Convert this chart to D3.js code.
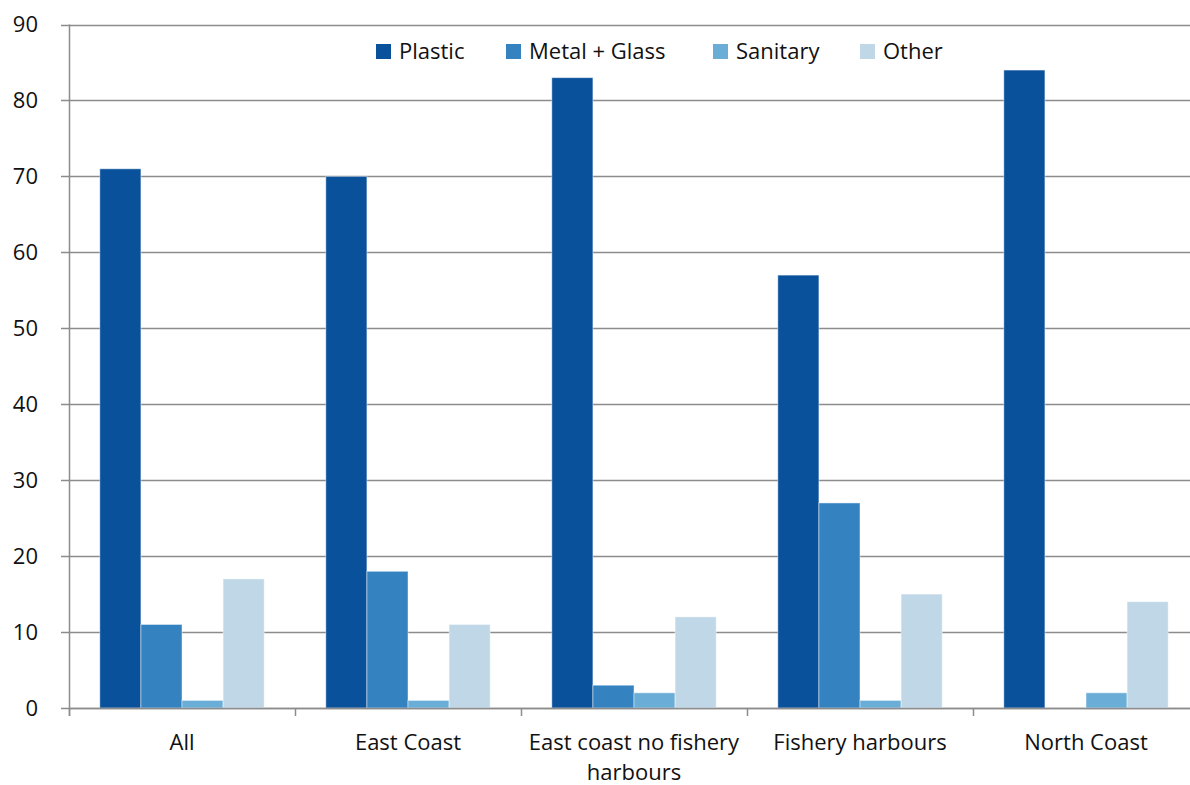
<!DOCTYPE html>
<html>
<head>
<meta charset="utf-8">
<script src="https://cdn.jsdelivr.net/npm/d3@7"></script>
<style>
  html, body { margin: 0; padding: 0; background: #fff; }
  svg text { font-family: "Open Sans", "Liberation Sans", sans-serif; fill: #111; }
</style>
</head>
<body>
<svg id="chart" width="1190" height="785"></svg>
<script>
// Litter composition (%) by coastal area
const categories = ["All", "East Coast", "East coast no fishery harbours", "Fishery harbours", "North Coast"];
const seriesNames = ["Plastic", "Metal + Glass", "Sanitary", "Other"];
const plastic     = [71, 70, 83, 57, 84];
const metalGlass  = [11, 18, 3, 27, 0];
const sanitary    = [1, 1, 2, 1, 2];
const other       = [17, 11, 12, 15, 14];
const yTicks      = [0, 10, 20, 30, 40, 50, 60, 70, 80, 90];
const colors      = ["#0a519c", "#3483c0", "#6aaed7", "#bfd7e7"];

const seriesValues = [plastic, metalGlass, sanitary, other];

const svg = d3.select("#chart");
const plotLeft = 69, plotRight = 1199, plotTop = 24.5, plotBottom = 708;

const x0 = d3.scaleBand().domain(categories).range([plotLeft, plotRight]).paddingInner(0).paddingOuter(0);
const x1 = d3.scaleBand().domain(seriesNames).range([0, x0.bandwidth()]).paddingOuter(0.75).paddingInner(0);
const y = d3.scaleLinear().domain([0, 90]).range([plotBottom, plotTop]);

// horizontal gridlines
svg.append("g").selectAll("line").data(yTicks).join("line")
  .attr("x1", plotLeft - 8).attr("x2", plotRight)
  .attr("y1", d => Math.round(y(d)) + 0.5).attr("y2", d => Math.round(y(d)) + 0.5)
  .attr("stroke", "#8c8c8c").attr("stroke-width", 1.5);

// y tick labels
svg.append("g").selectAll("text").data(yTicks).join("text")
  .attr("x", 38).attr("y", d => y(d)).attr("dy", "0.36em")
  .attr("text-anchor", "end").attr("font-size", 22)
  .text(d => d);

// bars
const groups = svg.append("g").selectAll("g").data(categories).join("g")
  .attr("transform", d => `translate(${x0(d)},0)`);
groups.selectAll("rect")
  .data((c, ci) => seriesNames.map((s, si) => ({ s, si, v: seriesValues[si][ci] })).filter(d => d.v > 0))
  .join("rect")
  .attr("x", d => x1(d.s)).attr("width", x1.bandwidth())
  .attr("y", d => y(d.v)).attr("height", d => plotBottom - y(d.v))
  .attr("fill", d => colors[d.si])
  .attr("stroke", "rgba(255,255,255,0.45)").attr("stroke-width", 1);

// y axis line
svg.append("line").attr("x1", plotLeft + 0.5).attr("x2", plotLeft + 0.5)
  .attr("y1", plotTop).attr("y2", plotBottom + 8)
  .attr("stroke", "#8c8c8c").attr("stroke-width", 1.5);

// x axis line and category boundary ticks
svg.append("line").attr("x1", plotLeft).attr("x2", plotRight)
  .attr("y1", plotBottom + 0.5).attr("y2", plotBottom + 0.5)
  .attr("stroke", "#8c8c8c").attr("stroke-width", 1.5);
const bounds = categories.map(c => x0(c)).concat([plotRight]);
svg.append("g").selectAll("line").data(bounds).join("line")
  .attr("x1", d => Math.round(d) + 0.5).attr("x2", d => Math.round(d) + 0.5)
  .attr("y1", plotBottom).attr("y2", plotBottom + 8)
  .attr("stroke", "#8c8c8c").attr("stroke-width", 1.5);

// category labels (wrapped to band width)
const catLabels = {
  "All": ["All"],
  "East Coast": ["East Coast"],
  "East coast no fishery harbours": ["East coast no fishery", "harbours"],
  "Fishery harbours": ["Fishery harbours"],
  "North Coast": ["North Coast"]
};
svg.append("g").selectAll("text").data(categories).join("text")
  .attr("x", d => x0(d) + x0.bandwidth() / 2)
  .attr("y", 750)
  .attr("text-anchor", "middle").attr("font-size", 22)
  .each(function (d) {
    d3.select(this).selectAll("tspan").data(catLabels[d]).join("tspan")
      .attr("x", x0(d) + x0.bandwidth() / 2)
      .attr("dy", (t, i) => i === 0 ? 0 : 30)
      .text(t => t);
  });

// legend
const legendX = [376, 506, 713, 860];
const legend = svg.append("g").selectAll("g").data(seriesNames).join("g")
  .attr("transform", (d, i) => `translate(${legendX[i]},0)`);
legend.append("rect").attr("x", 0).attr("y", 44).attr("width", 15).attr("height", 15)
  .attr("fill", (d, i) => colors[i]);
legend.append("text").attr("x", 23).attr("y", 59).attr("font-size", 22).text(d => d);
</script>
</body>
</html>
